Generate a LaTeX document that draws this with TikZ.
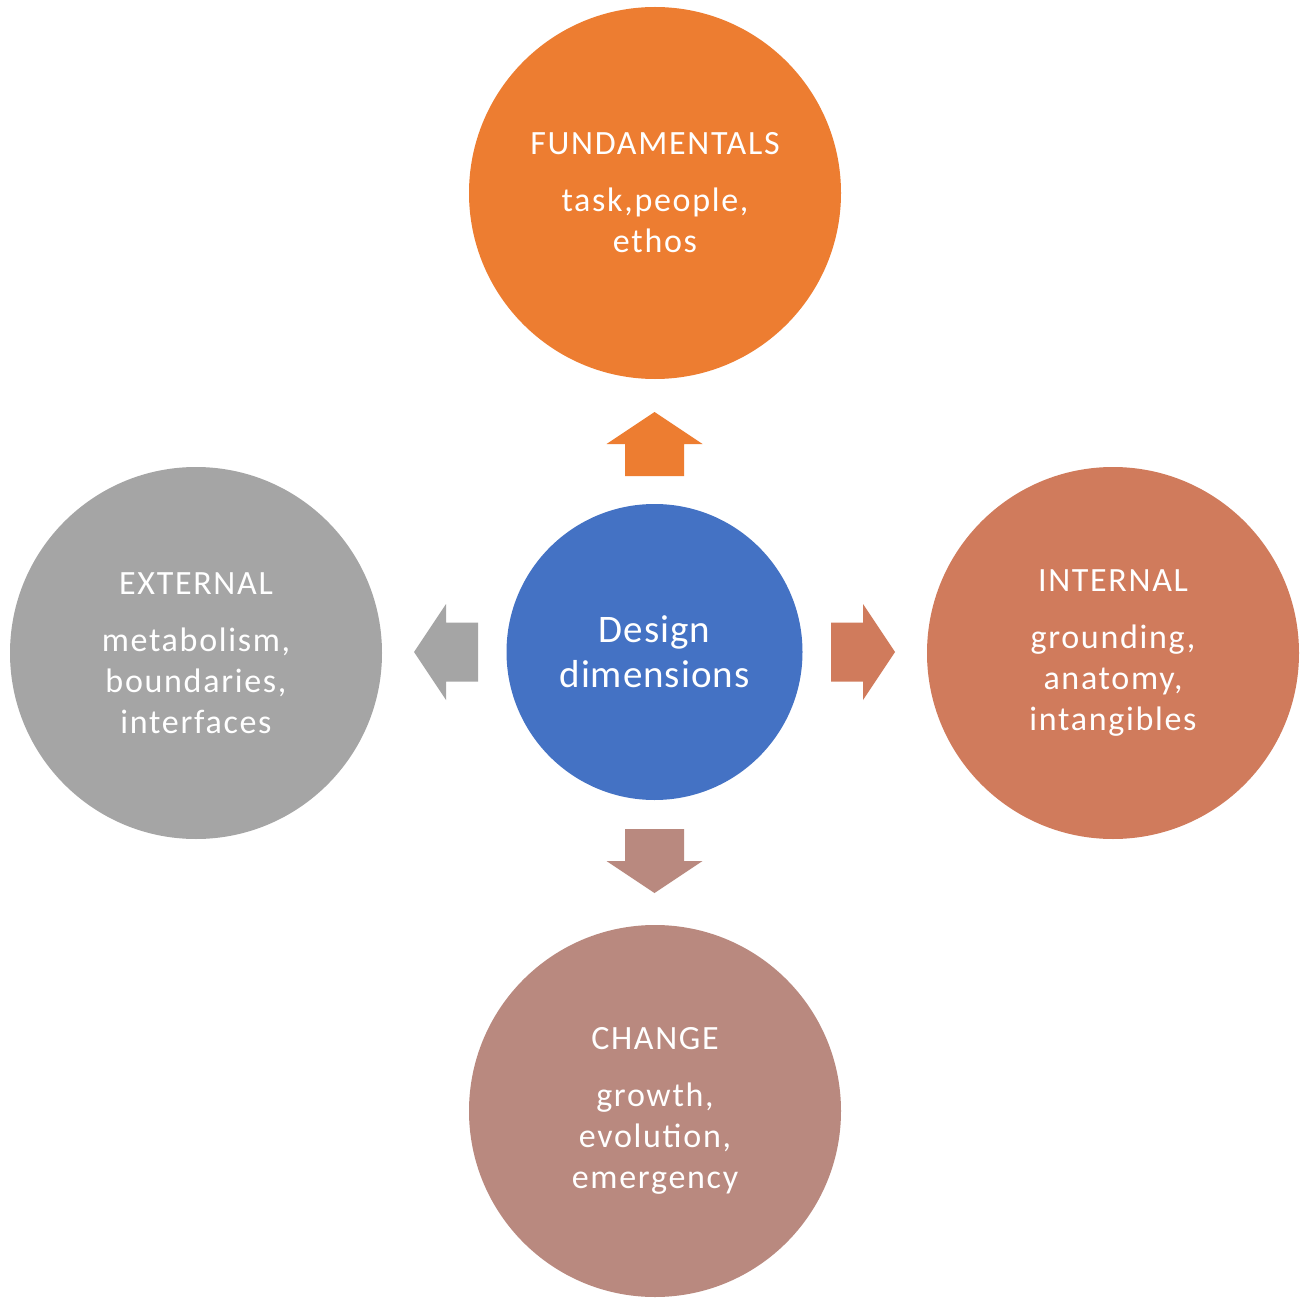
\documentclass[tikz,border=0pt]{standalone}
\usepackage{fontspec}
\setmainfont{Carlito}
\newfontfamily\outerfont[LetterSpace=5]{Carlito}
\newfontfamily\hubfont[LetterSpace=2.5]{Carlito}
\definecolor{corange}{HTML}{ED7D31}
\definecolor{cblue}{HTML}{4472C4}
\definecolor{cgray}{HTML}{A5A5A5}
\definecolor{ccoral}{HTML}{D07B5C}
\definecolor{crose}{HTML}{B9897F}
\begin{document}
\begin{tikzpicture}[x=0.5pt,y=-0.5pt,
  outer/.style={circle,inner sep=0pt,minimum size=186pt,text=white,align=center,
    font=\outerfont\fontsize{17}{20.5}\selectfont},
  hub/.style={circle,inner sep=0pt,minimum size=148pt,fill=cblue,text=white,align=center,
    font=\hubfont\fontsize{19.5}{22.5}\selectfont}]
\useasboundingbox (0,0) rectangle (1312,1305);
\fill[white] (0,0) rectangle (1312,1305);
\node[hub] (hub) at (654.5,652) {Design\\dimensions};
\node[outer,fill=corange] (fund) at (655,193) {FUNDAMENTALS\\[8pt]task,people,\\ethos};
\node[outer,fill=ccoral] (int) at (1113,653) {INTERNAL\\[8pt]grounding,\\anatomy,\\intangibles};
\node[outer,fill=cgray] (ext) at (196,653) {EXTERNAL\\[8pt]metabolism,\\boundaries,\\interfaces};
\node[outer,fill=crose] (chg) at (655,1111) {CHANGE\\[8pt]growth,\\evolution,\\emergency};
% block arrows
\fill[corange] (654.5,412) -- (702.5,444) -- (684,444) -- (684,476) -- (625,476) -- (625,444) -- (606.5,444) -- cycle;
\fill[ccoral] (895,652) -- (863,700) -- (863,681.5) -- (831,681.5) -- (831,622.5) -- (863,622.5) -- (863,604) -- cycle;
\fill[cgray] (414,652) -- (446,700) -- (446,681.5) -- (478,681.5) -- (478,622.5) -- (446,622.5) -- (446,604) -- cycle;
\fill[crose] (654.5,893) -- (702.5,861) -- (684,861) -- (684,829) -- (625,829) -- (625,861) -- (606.5,861) -- cycle;
\end{tikzpicture}
\end{document}
